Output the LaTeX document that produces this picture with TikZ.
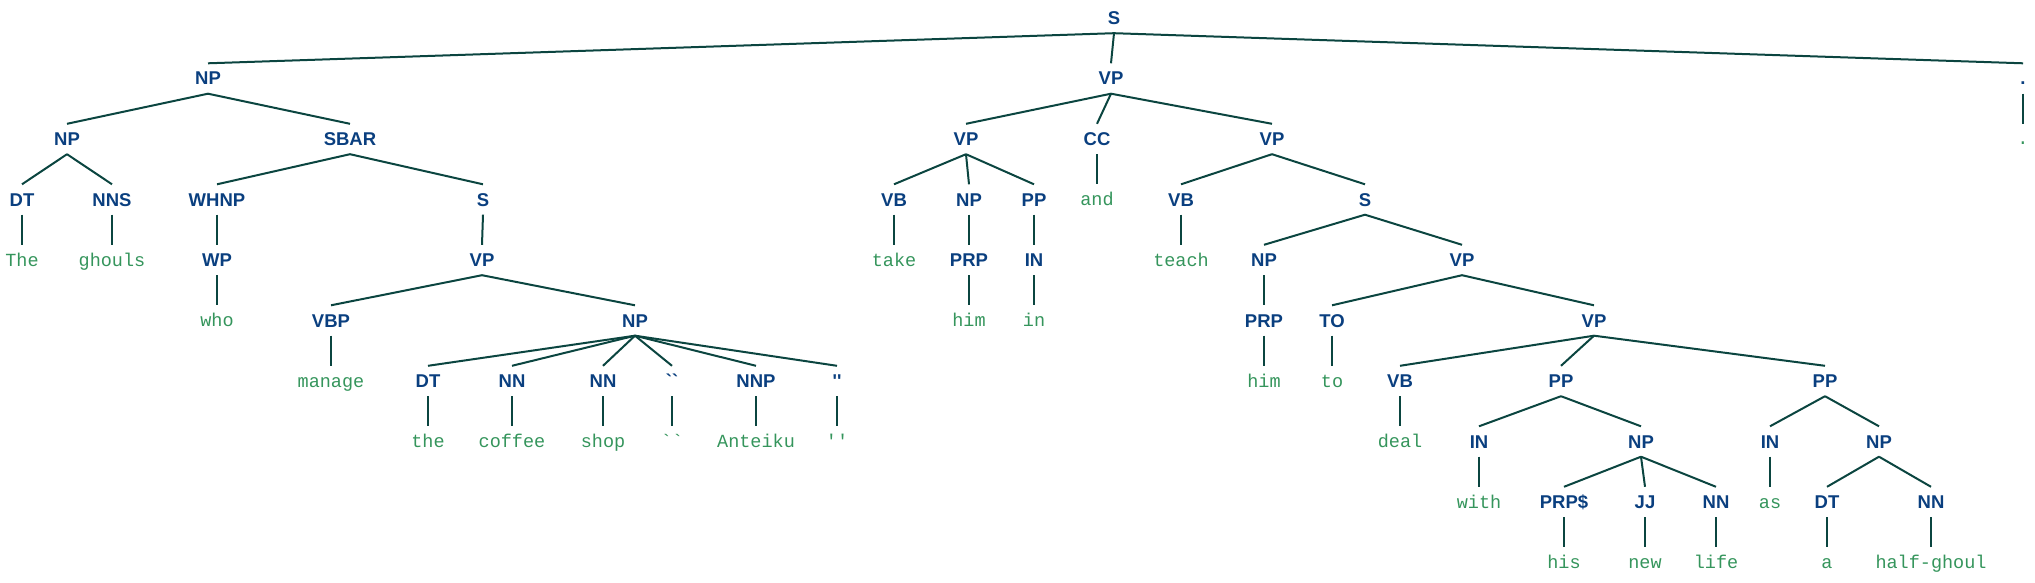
\documentclass[tikz,border=0pt]{standalone}
\usepackage{fontspec}
\newfontfamily\labfont{Liberation Sans}
\newfontfamily\leaffont{Liberation Mono}
\definecolor{labcol}{HTML}{0A3F7F}
\definecolor{leafcol}{HTML}{35955C}
\definecolor{linecol}{HTML}{0B4540}
\tikzset{
  lab/.style={font=\labfont\bfseries\fontsize{18.5}{20}\selectfont, text=labcol, inner sep=0pt, text height=13pt, text depth=0pt, minimum height=30pt},
  leaf/.style={font=\leaffont\fontsize{18.5}{20}\selectfont, text=leafcol, inner sep=0pt, text height=12pt, text depth=0pt, minimum height=30pt},
  edge/.style={draw=linecol, line width=2pt}
}
\begin{document}
\begin{tikzpicture}[x=1pt,y=-1pt]
\useasboundingbox (0,0) rectangle (2035,583);
% level 0
\node[lab] (s0) at (1114,18) {S};
% level 1
\node[lab] (np1) at (208,78.5) {NP};
\node[lab] (vp1) at (1111,78.5) {VP};
\node[lab] (pd1) at (2023,78.5) {.};
% level 2
\node[lab] (np2) at (67,139) {NP};
\node[lab] (sbar) at (350,139) {SBAR};
\node[lab] (vp2a) at (966,139) {VP};
\node[lab] (cc) at (1097,139) {CC};
\node[lab] (vp2b) at (1272,139) {VP};
\node[leaf] (pd2) at (2023,139) {.};
% level 3
\node[lab] (dt3) at (22,199.5) {DT};
\node[lab] (nns3) at (112,199.5) {NNS};
\node[lab] (whnp) at (217,199.5) {WHNP};
\node[lab] (s3a) at (483,199.5) {S};
\node[lab] (vb3a) at (894,199.5) {VB};
\node[lab] (np3) at (969,199.5) {NP};
\node[lab] (pp3) at (1034,199.5) {PP};
\node[leaf] (wand) at (1097,199.5) {and};
\node[lab] (vb3b) at (1181,199.5) {VB};
\node[lab] (s3b) at (1365,199.5) {S};
% level 4
\node[leaf] (wthe1) at (22,260) {The};
\node[leaf] (wghouls) at (112,260) {ghouls};
\node[lab] (wp) at (217,260) {WP};
\node[lab] (vp4a) at (482,260) {VP};
\node[leaf] (wtake) at (894,260) {take};
\node[lab] (prp4) at (969,260) {PRP};
\node[lab] (in4) at (1034,260) {IN};
\node[leaf] (wteach) at (1181,260) {teach};
\node[lab] (np4) at (1264,260) {NP};
\node[lab] (vp4b) at (1462,260) {VP};
% level 5
\node[leaf] (wwho) at (217,320.5) {who};
\node[lab] (vbp) at (331,320.5) {VBP};
\node[lab] (np5) at (635,320.5) {NP};
\node[leaf] (whim1) at (969,320.5) {him};
\node[leaf] (win) at (1034,320.5) {in};
\node[lab] (prp5) at (1264,320.5) {PRP};
\node[lab] (to5) at (1332,320.5) {TO};
\node[lab] (vp5) at (1594,320.5) {VP};
% level 6
\node[leaf] (wmanage) at (331,381) {manage};
\node[lab] (dt6) at (428,381) {DT};
\node[lab] (nn6a) at (512,381) {NN};
\node[lab] (nn6b) at (603,381) {NN};
\node[lab] (oq6) at (672,381) {``};
\node[lab] (nnp6) at (756,381) {NNP};
\node[lab] (cq6) at (837,381) {''};
\node[leaf] (whim2) at (1264,381) {him};
\node[leaf] (wto) at (1332,381) {to};
\node[lab] (vb6) at (1400,381) {VB};
\node[lab] (pp6a) at (1561,381) {PP};
\node[lab] (pp6b) at (1825,381) {PP};
% level 7
\node[leaf] (wthe2) at (428,441.5) {the};
\node[leaf] (wcoffee) at (512,441.5) {coffee};
\node[leaf] (wshop) at (603,441.5) {shop};
\node[leaf] (woq) at (672,441.5) {``};
\node[leaf] (wanteiku) at (756,441.5) {Anteiku};
\node[leaf] (wcq) at (837,441.5) {''};
\node[leaf] (wdeal) at (1400,441.5) {deal};
\node[lab] (in7a) at (1479,441.5) {IN};
\node[lab] (np7a) at (1641,441.5) {NP};
\node[lab] (in7b) at (1770,441.5) {IN};
\node[lab] (np7b) at (1879,441.5) {NP};
% level 8
\node[leaf] (wwith) at (1479,502) {with};
\node[lab] (prps) at (1564,502) {PRP\$};
\node[lab] (jj) at (1645,502) {JJ};
\node[lab] (nn8a) at (1716,502) {NN};
\node[leaf] (was) at (1770,502) {as};
\node[lab] (dt8) at (1827,502) {DT};
\node[lab] (nn8b) at (1931,502) {NN};
% level 9
\node[leaf] (whis) at (1564,562.5) {his};
\node[leaf] (wnew) at (1645,562.5) {new};
\node[leaf] (wlife) at (1716,562.5) {life};
\node[leaf] (wa) at (1827,562.5) {a};
\node[leaf] (whalf) at (1931,562.5) {half-ghoul};
% edges
\foreach \p/\c in {s0/np1, s0/vp1, s0/pd1, pd1/pd2,
  np1/np2, np1/sbar, np2/dt3, np2/nns3, dt3/wthe1, nns3/wghouls,
  sbar/whnp, sbar/s3a, whnp/wp, wp/wwho, s3a/vp4a, vp4a/vbp, vp4a/np5, vbp/wmanage,
  np5/dt6, np5/nn6a, np5/nn6b, np5/oq6, np5/nnp6, np5/cq6,
  dt6/wthe2, nn6a/wcoffee, nn6b/wshop, oq6/woq, nnp6/wanteiku, cq6/wcq,
  vp1/vp2a, vp1/cc, vp1/vp2b, vp2a/vb3a, vp2a/np3, vp2a/pp3, vb3a/wtake, np3/prp4, prp4/whim1, pp3/in4, in4/win,
  cc/wand, vp2b/vb3b, vp2b/s3b, vb3b/wteach, s3b/np4, s3b/vp4b, np4/prp5, prp5/whim2,
  vp4b/to5, vp4b/vp5, to5/wto, vp5/vb6, vp5/pp6a, vp5/pp6b, vb6/wdeal,
  pp6a/in7a, pp6a/np7a, in7a/wwith, np7a/prps, np7a/jj, np7a/nn8a, prps/whis, jj/wnew, nn8a/wlife,
  pp6b/in7b, pp6b/np7b, in7b/was, np7b/dt8, np7b/nn8b, dt8/wa, nn8b/whalf}
  \draw[edge] (\p.south) -- (\c.north);
\end{tikzpicture}
\end{document}
